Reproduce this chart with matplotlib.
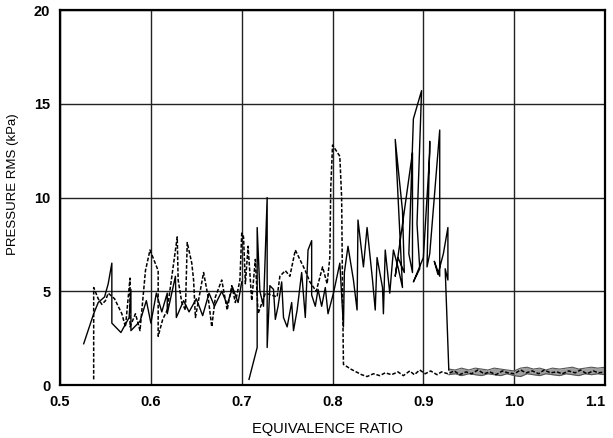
import numpy as np
import matplotlib.pyplot as plt

plt.rcParams['font.family'] = ['Liberation Sans', 'DejaVu Sans']

# Sweep 1, dashed trace: (equivalence ratio, rms pressure kPa)
dash_phi = [0.537, 0.537, 0.542, 0.546, 0.550, 0.553, 0.560, 0.568, 0.572, 0.577,
            0.577, 0.583, 0.588, 0.594, 0.599, 0.608, 0.608, 0.613, 0.618, 0.629,
            0.630, 0.634, 0.638, 0.640, 0.645, 0.647, 0.649, 0.658, 0.663, 0.667,
            0.671, 0.678, 0.684, 0.689, 0.693, 0.698, 0.700, 0.702, 0.704, 0.707,
            0.711, 0.715, 0.718, 0.726, 0.739, 0.742, 0.748, 0.753, 0.759, 0.764,
            0.770, 0.775, 0.782, 0.789, 0.794, 0.797, 0.798, 0.800, 0.808, 0.810,
            0.811, 0.812, 0.820, 0.826, 0.832, 0.838, 0.845, 0.852, 0.858, 0.865,
            0.872, 0.878, 0.885, 0.890, 0.896, 0.902, 0.908, 0.915, 0.920, 0.927,
            0.934, 0.940, 0.947, 0.953, 0.960, 0.967, 0.973, 0.980, 0.987, 0.993,
            1.000, 1.007, 1.013, 1.020, 1.027, 1.033, 1.040, 1.047, 1.053, 1.060,
            1.067, 1.073, 1.080, 1.087, 1.093, 1.100]
dash_p = [0.3, 5.2, 4.6, 4.3, 4.5, 4.9, 4.6, 3.8, 3.1, 5.7,
          3.1, 3.8, 2.9, 6.1, 7.2, 6.1, 2.6, 3.5, 4.0, 7.9,
          5.6, 4.4, 4.0, 7.6, 6.5, 5.6, 3.6, 6.0, 4.7, 3.1,
          4.7, 5.6, 4.0, 5.3, 4.4, 5.6, 8.1, 7.9, 5.4, 7.4,
          4.5, 6.7, 3.8, 4.9, 4.7, 5.8, 6.1, 5.8, 7.2, 6.7,
          6.1, 5.5, 5.0, 6.3, 5.4, 6.8, 10.5, 12.8, 12.2, 10.0,
          5.0, 1.1, 0.85, 0.7, 0.55, 0.45, 0.6, 0.5, 0.65, 0.55,
          0.7, 0.5, 0.75, 0.55, 0.8, 0.6, 0.75, 0.55, 0.7, 0.6,
          0.75, 0.55, 0.7, 0.6, 0.8, 0.6, 0.7, 0.55, 0.75, 0.65,
          0.6, 0.8, 0.65, 0.75, 0.6, 0.8, 0.65, 0.7, 0.6, 0.75,
          0.65, 0.8, 0.6, 0.75, 0.65, 0.7]

# Sweep 2, first solid trace
run1_phi = [0.526, 0.537, 0.542, 0.549, 0.553, 0.557, 0.557, 0.567, 0.576, 0.578,
            0.578, 0.588, 0.595, 0.600, 0.606, 0.612, 0.618, 0.618, 0.627, 0.628,
            0.636, 0.642, 0.650, 0.657, 0.664, 0.670, 0.678, 0.684, 0.690, 0.696,
            0.700]
run1_p = [2.2, 3.8, 4.4, 4.7, 5.4, 6.5, 3.3, 2.8, 3.6, 5.1,
          2.9, 3.4, 4.5, 3.3, 4.9, 3.9, 4.9, 3.8, 5.8, 3.6,
          4.5, 3.9, 4.6, 3.7, 4.9, 4.2, 5.0, 4.3, 5.2, 4.4,
          5.5]

# Sweep 3, second solid trace
run2_phi = [0.708, 0.717, 0.717, 0.720, 0.724, 0.728, 0.728, 0.731, 0.735, 0.737,
            0.740, 0.744, 0.746, 0.750, 0.755, 0.757, 0.761, 0.766, 0.770, 0.773,
            0.777, 0.777, 0.781, 0.784, 0.788, 0.792, 0.795, 0.801, 0.808, 0.812,
            0.813, 0.817, 0.823, 0.827, 0.828, 0.834, 0.838, 0.844, 0.847, 0.849,
            0.855, 0.856, 0.858, 0.863, 0.867, 0.872, 0.877, 0.869, 0.877, 0.879,
            0.872, 0.869, 0.888, 0.888, 0.884, 0.889, 0.898, 0.893, 0.896, 0.889,
            0.900, 0.907, 0.907, 0.904, 0.907, 0.918, 0.918, 0.912, 0.916, 0.922,
            0.927, 0.927, 0.924, 0.928]
run2_p = [0.3, 2.0, 8.4, 5.0, 4.2, 10.0, 2.0, 5.3, 5.1, 3.5,
          4.2, 5.5, 3.6, 3.1, 4.4, 2.9, 4.0, 6.0, 3.6, 7.2,
          7.7, 4.8, 4.2, 5.1, 4.2, 5.2, 3.8, 4.9, 6.5, 3.1,
          6.0, 7.4, 5.6, 4.0, 8.8, 6.3, 8.4, 5.6, 4.0, 6.8,
          5.2, 3.8, 7.2, 4.9, 7.2, 6.3, 5.2, 13.1, 9.3, 6.0,
          6.8, 5.8, 12.4, 6.0, 7.0, 14.2, 15.7, 8.6, 6.2, 5.5,
          6.8, 12.4, 13.0, 6.3, 7.0, 13.6, 5.8, 6.6, 5.9, 7.0,
          8.4, 5.6, 6.2, 0.8]

# Lean-blowout band after the drop, upper and lower edges
band_phi = [0.928, 0.935, 0.942, 0.950, 0.957, 0.964, 0.971, 0.978, 0.985, 0.992,
            1.000, 1.007, 1.014, 1.021, 1.028, 1.035, 1.042, 1.050, 1.057, 1.064,
            1.071, 1.078, 1.085, 1.092, 1.100]
band_hi = [0.85, 0.8, 0.9, 0.8, 0.9, 0.85, 0.8, 0.9, 0.85, 0.8,
           0.75, 0.9, 0.95, 0.85, 0.9, 0.8, 0.9, 0.85, 0.9, 0.95,
           0.85, 0.9, 0.95, 0.9, 0.95]
band_lo = [0.55, 0.6, 0.5, 0.6, 0.55, 0.5, 0.6, 0.55, 0.5, 0.6,
           0.5, 0.45, 0.6, 0.55, 0.5, 0.6, 0.55, 0.5, 0.6, 0.55,
           0.5, 0.6, 0.55, 0.6, 0.55]

fig = plt.figure(figsize=(6.13, 4.38), dpi=100)
ax = fig.add_axes([0.098, 0.121, 0.889, 0.856])

ax.fill_between(band_phi, band_lo, band_hi, color='#a0a0a0', lw=0)
ax.plot(band_phi, band_hi, color='#555555', lw=0.8)
ax.plot(band_phi, band_lo, color='#555555', lw=0.8)

ax.plot(run1_phi, run1_p, color='black', lw=1.0)
ax.plot(run2_phi, run2_p, color='black', lw=1.0)
ax.plot(dash_phi, dash_p, color='black', lw=1.1, dashes=(2.5, 1.2))

ax.set_xlim(0.5, 1.1)
ax.set_ylim(0, 20)
ax.set_xticks([0.5, 0.6, 0.7, 0.8, 0.9, 1.0, 1.1])
ax.set_xticklabels(['0.5', '0.6', '0.7', '0.8', '0.9', '1.0', '1.1'])
ax.set_yticks([0, 5, 10, 15, 20])
ax.tick_params(length=0, labelsize=10.5, pad=7)
for lab in ax.get_xticklabels() + ax.get_yticklabels():
    lab.set_fontweight('bold')
# keep the last x label inside the figure
ax.get_xticklabels()[-1].set_horizontalalignment('right')
ax.grid(True, color='#222222', lw=1.0)
ax.set_axisbelow(True)
for s in ax.spines.values():
    s.set_linewidth(1.6)

ax.set_xlabel('EQUIVALENCE RATIO', fontsize=10.5)
ax.set_ylabel('PRESSURE RMS (kPa)', fontsize=9.5)
ax.xaxis.set_label_coords(0.49, -0.098)
ax.yaxis.set_label_coords(-0.075, 0.536)

fig.savefig('out.png', dpi=100)
